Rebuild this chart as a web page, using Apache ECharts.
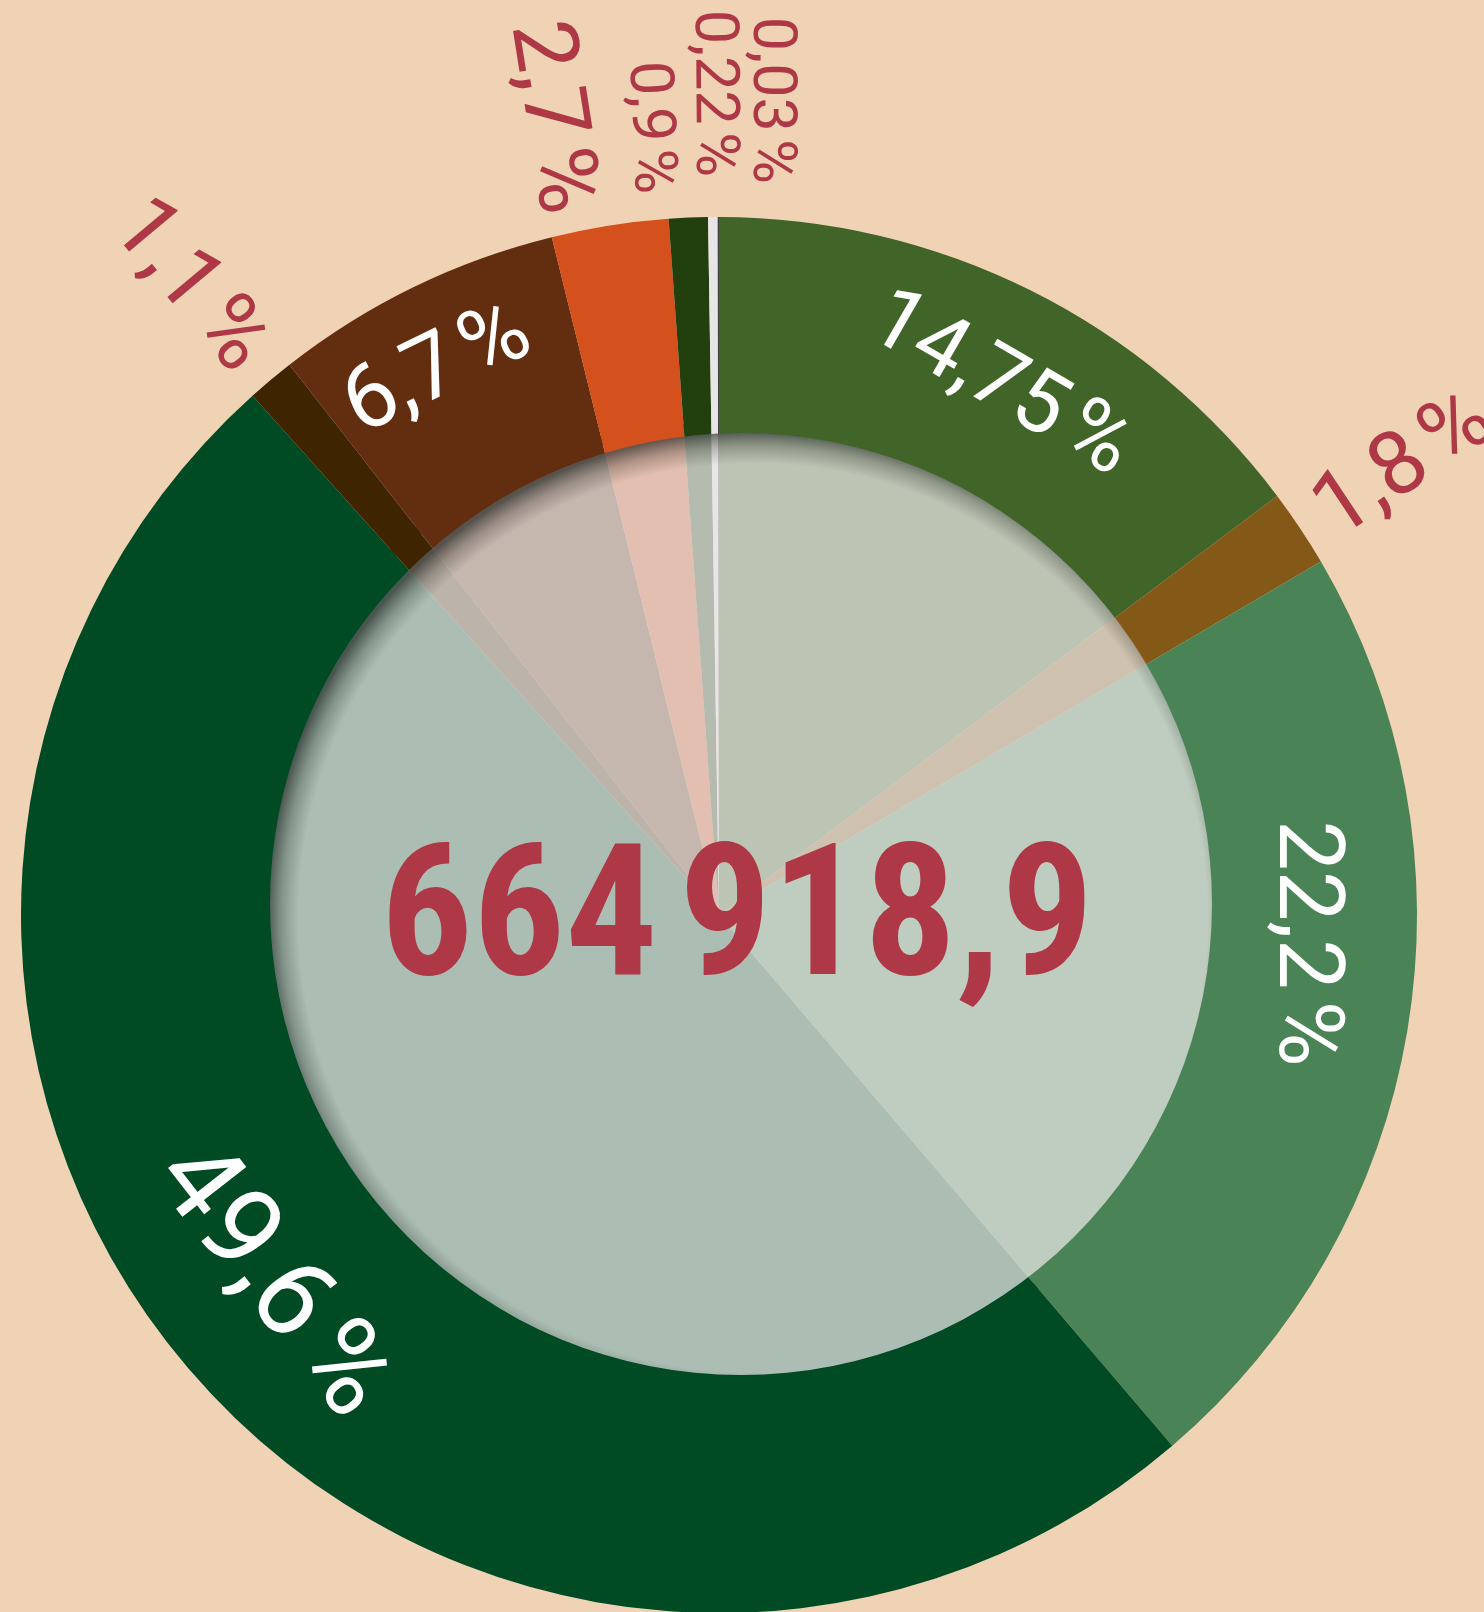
<!DOCTYPE html>
<html>
<head>
<meta charset="utf-8">
<style>
  html, body { margin: 0; padding: 0; background: #f0d2b5; }
  #chart { width: 1484px; height: 1612px; }
</style>
<script src="https://cdn.jsdelivr.net/npm/echarts@6/dist/echarts.min.js"></script>
</head>
<body>
<div id="chart"></div>
<script>
// andeler i prosent, med klokka fra toppen
const shares = [14.75, 1.8, 22.2, 49.6, 1.1, 6.7, 2.7, 0.9, 0.22, 0.03];
const sliceColors = ['#416428', '#845816', '#4a8456', '#004a24', '#3f2400',
  '#632d10', '#d4501c', '#22400e', '#e6e6e6', '#404040'];
const totalText = '664\u202f918,9';

const colors = {
  background: '#f0d2b5',
  red: '#ae3846',
  white: '#ffffff',
};

const center = [719, 915];
const outerR = 698;
const ringR = 484;
const disc = { center: [741, 904], r: 471 };

// label look per slice: rotation (deg, or 'tangential'/'radial'), size,
// and nudges in the label's own rotated frame (dx along the text, dy across)
const labelTweaks = {
  0: { rotate: -30, size: 87, dx: 14, dy: -5 },
  1: { size: 89, dx: -8, dy: 5 },
  2: { rotate: -90, size: 90, dx: -70, dy: 2 },
  3: { rotate: -52, size: 114, dx: -20, dy: -13 },
  4: { size: 89, dx: 4, dy: 0 },
  5: { size: 90, dx: -15, dy: -17 },
  6: { size: 89, dx: 10, dy: 38 },
  7: { size: 61, dx: 3, dy: 31 },
  8: { size: 61, dx: -12, dy: -5 },
  9: { size: 61, dx: -5, dy: -56 },
};

function fmt(v) {
  return String(v).replace('.', ',') + '\u202f%';
}

function labelFor(v, i) {
  const t = labelTweaks[i] || {};
  if (v >= 5) {
    return {
      position: 'inside',
      rotate: t.rotate != null ? t.rotate : 'tangential',
      color: colors.white,
      fontSize: t.size || 90,
    };
  }
  return {
    position: 'outside',
    rotate: 'radial',
    color: colors.red,
    fontSize: t.size || 89,
  };
}

// litt mørkere kant oppe til venstre, som en indre skygge
const discFill = new echarts.graphic.RadialGradient(
  0.5 + 12 / (disc.r * 2), 0.5 + 14 / (disc.r * 2), 486 / (disc.r * 2),
  [
    { offset: 0, color: 'rgba(232, 230, 230, 0.74)' },
    { offset: 0.935, color: 'rgba(232, 230, 230, 0.74)' },
    { offset: 0.97, color: 'rgba(168, 168, 166, 0.78)' },
    { offset: 1, color: 'rgba(85, 88, 86, 0.86)' },
  ]
);

let myChart = echarts.init(document.getElementById('chart'));

let option = {
  backgroundColor: colors.background,
  animation: false,
  textStyle: { fontFamily: 'Roboto, sans-serif' },
  series: [
    {
      // full pie under the disc
      type: 'pie',
      center: center,
      radius: [0, ringR + 8],
      startAngle: 90,
      clockwise: true,
      silent: true,
      label: { show: false },
      labelLine: { show: false },
      itemStyle: { borderWidth: 0 },
      data: shares.map((v, i) => ({ value: v, itemStyle: { color: sliceColors[i] } })),
    },
    {
      type: 'pie',
      center: center,
      radius: [ringR, outerR],
      startAngle: 90,
      clockwise: true,
      silent: true,
      avoidLabelOverlap: false,
      itemStyle: { borderWidth: 0 },
      label: {
        show: true,
        fontFamily: 'Roboto, sans-serif',
        fontWeight: 'normal',
        formatter: (p) => fmt(p.value),
      },
      labelLine: { show: false, length: 28, length2: 0 },
      labelLayout: (p) => {
        const t = labelTweaks[p.dataIndex];
        return t ? { dx: t.dx || 0, dy: t.dy || 0 } : {};
      },
      data: shares.map((v, i) => ({
        value: v,
        itemStyle: { color: sliceColors[i] },
        label: labelFor(v, i),
      })),
    },
    {
      // the pale disc in the middle with the total
      type: 'pie',
      center: disc.center,
      radius: [0, disc.r],
      silent: true,
      itemStyle: { borderWidth: 0 },
      label: {
        show: true,
        position: 'center',
        formatter: totalText,
        color: colors.red,
        fontSize: 183,
        fontWeight: 'bold',
        fontFamily: '"Roboto Condensed", "Liberation Sans Narrow", Roboto, sans-serif',
      },
      labelLine: { show: false },
      labelLayout: { dx: -4, dy: 24 },
      data: [{ value: 1, itemStyle: { color: discFill } }],
    },
  ],
};

myChart.setOption(option);
</script>
</body>
</html>
